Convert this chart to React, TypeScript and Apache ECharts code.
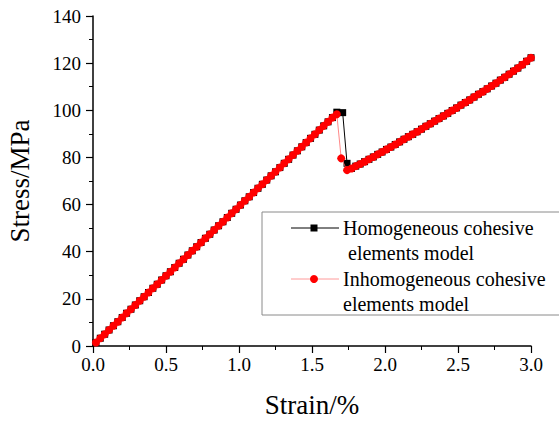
import React, { useEffect, useRef } from "react";
import * as echarts from "echarts";

// Loading branch (shared by both models), strain in %, stress in MPa
const strainRise = [
  0.02, 0.05, 0.08, 0.11, 0.14, 0.17, 0.2, 0.23, 0.26, 0.29, 0.32, 0.35, 0.38, 0.41,
  0.44, 0.47, 0.5, 0.53, 0.56, 0.59, 0.62, 0.65, 0.68, 0.71, 0.74, 0.77, 0.8, 0.83,
  0.86, 0.89, 0.92, 0.95, 0.98, 1.01, 1.04, 1.07, 1.1, 1.13, 1.16, 1.19, 1.22, 1.25,
  1.28, 1.31, 1.34, 1.37, 1.4, 1.43, 1.46, 1.49, 1.52, 1.55, 1.58, 1.61, 1.64,
];
const stressRise = [
  1.5, 3.3, 5.0, 6.8, 8.6, 10.3, 12.1, 13.9, 15.6, 17.4, 19.2, 20.9, 22.7, 24.5,
  26.2, 28.0, 29.8, 31.5, 33.3, 35.1, 36.8, 38.6, 40.4, 42.1, 43.9, 45.7, 47.4, 49.2,
  51.0, 52.7, 54.5, 56.3, 58.0, 59.8, 61.6, 63.3, 65.1, 66.9, 68.6, 70.4, 72.2, 73.9,
  75.7, 77.5, 79.2, 81.0, 82.8, 84.5, 86.3, 88.1, 89.8, 91.6, 93.4, 95.1, 96.9,
];

// Peak and stress drop of each model
const homPeakStrain = [1.67, 1.71, 1.74];
const homPeakStress = [99.2, 99.0, 77.5];
const inhomPeakStrain = [1.67, 1.7, 1.74];
const inhomPeakStress = [98.3, 79.6, 74.6];

// Reloading branch (shared)
const strainReload = [
  1.77, 1.8, 1.83, 1.86, 1.89, 1.92, 1.95, 1.98, 2.01, 2.04, 2.07, 2.1, 2.13, 2.16,
  2.19, 2.22, 2.25, 2.28, 2.31, 2.34, 2.37, 2.4, 2.43, 2.46, 2.49, 2.52, 2.55, 2.58,
  2.61, 2.64, 2.67, 2.7, 2.73, 2.76, 2.79, 2.82, 2.85, 2.88, 2.91, 2.94, 2.97, 3.0,
];
const stressReload = [
  75.3, 76.3, 77.2, 78.2, 79.2, 80.2, 81.3, 82.3, 83.4, 84.4, 85.5, 86.6, 87.7, 88.8,
  89.8, 90.9, 92.0, 93.2, 94.3, 95.4, 96.5, 97.6, 98.7, 99.9, 101.0, 102.2, 103.3, 104.4,
  105.6, 106.8, 107.9, 109.1, 110.3, 111.5, 112.8, 114.0, 115.3, 116.6, 117.9, 119.3, 120.8, 122.3,
];

const xTicks = { min: 0, max: 3, interval: 0.5 };
const yTicks = { min: 0, max: 140, interval: 20 };

const legendNames = [
  ["Homogeneous cohesive", " elements model"],
  ["Inhomogeneous cohesive", "elements model"],
];

const FONT = "Liberation Serif";

function zip(xs: number[], ys: number[]) {
  return xs.map((x, i) => [x, ys[i]]);
}

export default function App() {
  const ref = useRef<HTMLDivElement>(null);

  useEffect(() => {
    if (!ref.current) return;
    const chart = echarts.init(ref.current, null, { renderer: "svg" });

    const homData = [
      ...zip(strainRise, stressRise),
      ...zip(homPeakStrain, homPeakStress),
      ...zip(strainReload, stressReload),
    ];
    const inhomData = [
      ...zip(strainRise, stressRise),
      ...zip(inhomPeakStrain, inhomPeakStress),
      ...zip(strainReload, stressReload),
    ];

    const axisCommon = {
      axisLine: { show: true, lineStyle: { color: "#000", width: 1.5 } },
      axisTick: { show: true, length: 7, lineStyle: { color: "#000", width: 1.2 } },
      minorTick: { show: true, splitNumber: 2, length: 4, lineStyle: { color: "#000", width: 1 } },
      splitLine: { show: false },
      nameTextStyle: { fontFamily: FONT, fontSize: 27, color: "#000" },
    };

    // Legend frame: open on the right, where it runs past the chart edge
    const frame = { left: 262, top: 212, bottom: 315, right: 600 };
    const frameStroke = { stroke: "#8a8a8a", lineWidth: 1 };

    chart.setOption({
      animation: false,
      backgroundColor: "#fff",
      textStyle: { fontFamily: FONT },
      grid: { left: 93, right: 28, top: 16, bottom: 77, outerBoundsMode: "none", containLabel: false },
      xAxis: {
        type: "value",
        ...xTicks,
        ...axisCommon,
        name: "Strain/%",
        nameLocation: "middle",
        nameGap: 45,
        axisLabel: {
          fontFamily: FONT,
          fontSize: 19,
          color: "#000",
          margin: 9,
          formatter: (v: number) => v.toFixed(1),
        },
      },
      yAxis: {
        type: "value",
        ...yTicks,
        ...axisCommon,
        name: "Stress/MPa",
        nameLocation: "middle",
        nameGap: 60,
        axisLabel: { fontFamily: FONT, fontSize: 19, color: "#000", margin: 12 },
      },
      series: [
        {
          name: legendNames[0].join(""),
          type: "line",
          data: homData,
          symbol: "rect",
          symbolSize: 7,
          showAllSymbol: true,
          lineStyle: { color: "#000", width: 1 },
          itemStyle: { color: "#000" },
          z: 2,
        },
        {
          name: legendNames[1].join(" "),
          type: "line",
          data: inhomData,
          symbol: "circle",
          symbolSize: 8,
          showAllSymbol: true,
          lineStyle: { color: "#ff6a6a", width: 0.8 },
          itemStyle: { color: "#ff0000" },
          z: 3,
        },
      ],
      graphic: [
        {
          type: "rect",
          shape: {
            x: frame.left,
            y: frame.top,
            width: frame.right - frame.left,
            height: frame.bottom - frame.top,
          },
          style: { fill: "#fff" },
          z: 10,
        },
        {
          type: "polyline",
          shape: {
            points: [
              [frame.right, frame.top],
              [frame.left, frame.top],
              [frame.left, frame.bottom],
              [frame.right, frame.bottom],
            ],
          },
          style: { ...frameStroke, fill: "none" },
          z: 11,
        },
        {
          type: "line",
          shape: { x1: 291, y1: 228, x2: 339, y2: 228 },
          style: { stroke: "#000", lineWidth: 1 },
          z: 11,
        },
        {
          type: "rect",
          shape: { x: 310.5, y: 224.5, width: 7, height: 7 },
          style: { fill: "#000" },
          z: 12,
        },
        {
          type: "line",
          shape: { x1: 291, y1: 279, x2: 339, y2: 279 },
          style: { stroke: "#ff9a9a", lineWidth: 1 },
          z: 11,
        },
        {
          type: "circle",
          shape: { cx: 314, cy: 279, r: 4 },
          style: { fill: "#ff0000" },
          z: 12,
        },
        ...[
          { t: legendNames[0][0], x: 343, y: 228 },
          { t: legendNames[0][1], x: 343, y: 253 },
          { t: legendNames[1][0], x: 343, y: 279 },
          { t: legendNames[1][1], x: 343, y: 304 },
        ].map((d) => ({
          type: "text",
          x: d.x,
          y: d.y,
          style: {
            text: d.t,
            fontFamily: FONT,
            fontSize: 20,
            fill: "#000",
            verticalAlign: "middle",
          },
          z: 12,
        })),
      ],
    });

    return () => chart.dispose();
  }, []);

  return (
    <div
      ref={ref}
      style={{ position: "fixed", left: 0, top: 0, width: 559, height: 423 }}
    />
  );
}
